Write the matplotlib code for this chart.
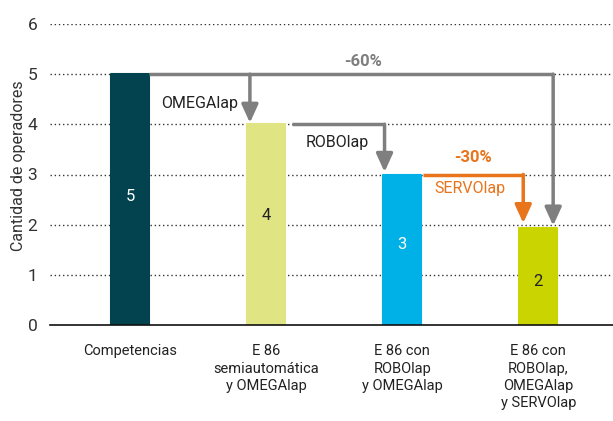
import matplotlib
matplotlib.use("Agg")
import matplotlib.pyplot as plt

plt.rcParams['font.family'] = ['Roboto', 'DejaVu Sans']

categories = ["Competencias", "E 86\nsemiautomática\ny OMEGAlap", "E 86 con\nROBOlap\ny OMEGAlap",
              "E 86 con\nROBOlap,\nOMEGAlap\ny SERVOlap"]
values = [5, 4, 3, 1.94]
value_labels = ["5", "4", "3", "2"]
bar_colors = ["#02434f", "#e1e483", "#00b1e7", "#c9d401"]
label_colors = ["white", "#222222", "white", "#222222"]
yticks = [0, 1, 2, 3, 4, 5, 6]

grey = "#7f7f7f"
orange = "#e8741c"

fig = plt.figure(figsize=(6.13, 4.21), dpi=100)
ax = fig.add_axes([50/613, 1-325/421, 563/613, 301/421])
x = list(range(len(values)))
ax.set_xlim(-0.59, 3.55)
ax.set_ylim(0, 6)

for yv in yticks[1:]:
    ax.axhline(yv, color="#333333", lw=1.0, ls=(0, (1, 2)), zorder=0)

ax.bar(x, values, width=0.28, color=bar_colors, edgecolor=bar_colors, lw=1.5,
       joinstyle='round', zorder=2)
offs = [0.06, 0.18, 0.1, -0.1]
for xi, v, lab, c, o in zip(x, values, value_labels, label_colors, offs):
    ax.text(xi, v/2 + o, lab, ha='center', va='center', color=c, fontsize=12, zorder=3)

for s in ['left', 'right', 'top']:
    ax.spines[s].set_visible(False)
ax.spines['bottom'].set_color('#111111')
ax.spines['bottom'].set_linewidth(1.2)
ax.set_yticks(yticks)
ax.set_yticklabels([str(t) for t in yticks], fontsize=12.5, color='#333333')
ax.tick_params(axis='y', length=0, pad=9)
ax.set_xticks(x)
ax.set_xticklabels(categories, fontsize=10.5, color='#222222', linespacing=1.3)
ax.tick_params(axis='x', length=0, pad=14)
ax.set_ylabel("Cantidad de operadores", fontsize=11.5, color='#333333')
ax.yaxis.set_label_coords(-0.043, 0.53)

def arrow(xs, y0, ytip, color):
    ax.annotate('', xy=(xs, ytip), xytext=(xs, y0),
                arrowprops=dict(arrowstyle='-|>,head_length=1.1,head_width=0.5',
                                color=color, lw=2.5, shrinkA=0, shrinkB=0), zorder=4)

lw = 2.5
# -60% path
ax.plot([0.14, 3.11], [5, 5], color=grey, lw=lw, solid_capstyle='butt', zorder=4)
arrow(3.11, 5, 1.98, grey)
ax.text(1.71, 5.26, "-60%", color=grey, fontsize=12, fontweight='bold', ha='center', va='center')
# OMEGAlap
arrow(0.88, 5, 4.03, grey)
ax.text(0.79, 4.42, "OMEGAlap", color='#222222', fontsize=11.5, ha='right', va='center')
# ROBOlap
ax.plot([1.19, 1.87], [4, 4], color=grey, lw=lw, solid_capstyle='butt', zorder=4)
arrow(1.87, 4, 3.05, grey)
ax.text(1.52, 3.63, "ROBOlap", color='#222222', fontsize=11.5, ha='center', va='center')
# SERVOlap
ax.plot([2.15, 2.89], [3, 3], color=orange, lw=lw, solid_capstyle='butt', zorder=4)
arrow(2.89, 3, 2.03, orange)
ax.text(2.52, 3.33, "-30%", color=orange, fontsize=12, fontweight='bold', ha='center', va='center')
ax.text(2.5, 2.73, "SERVOlap", color=orange, fontsize=11.5, ha='center', va='center')

fig.savefig("out.png", dpi=100)
